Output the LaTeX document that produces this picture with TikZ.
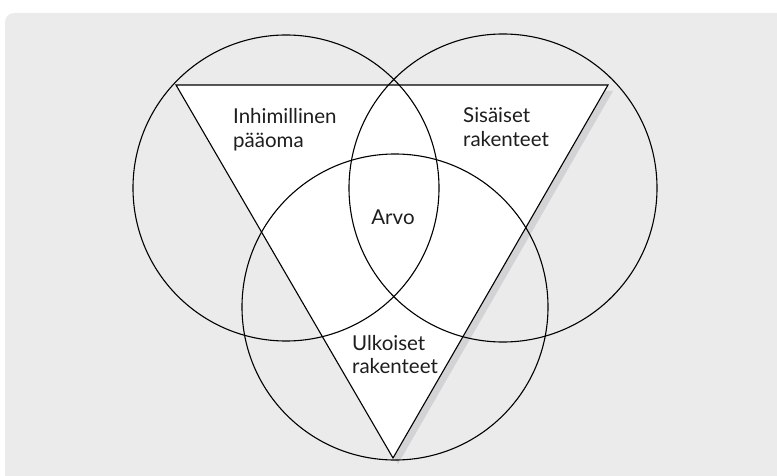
\documentclass[tikz,border=0pt]{standalone}
\usepackage{fontspec}
\setmainfont{Lato}
\definecolor{panel}{HTML}{EBEBEB}
\definecolor{shadowgrey}{HTML}{D3D3D6}
\definecolor{ink}{HTML}{1E1E1E}
\begin{document}
\begin{tikzpicture}[x=1pt,y=-1pt,
  ring/.style={draw=black,line width=1.1pt},
  edge/.style={draw=black,line width=1.1pt,line join=miter},
  lbl/.style={inner sep=0pt,font=\fontsize{20.5}{24}\selectfont,text=ink,anchor=base west}]
\useasboundingbox (0,0) rectangle (777,476);
% grey panel behind everything
\fill[panel,rounded corners=9pt] (5,13) rectangle (790,489);
% triangle corners
\coordinate (tl) at (176,85);
\coordinate (tr) at (608,85);
\coordinate (bt) at (393,458);
% drop shadow, then white triangle
\fill[fill=shadowgrey] ([shift={(5,6)}]tl) -- ([shift={(5,6)}]tr) -- ([shift={(5,6)}]bt) -- cycle;
\fill[white] (tl) -- (tr) -- (bt) -- cycle;
% three circles
\node[ring,circle,minimum size=306pt,inner sep=0pt] (cl) at (286,188) {};
\node[ring,circle,minimum size=308pt,inner sep=0pt] (cr) at (503,188) {};
\node[ring,circle,minimum size=306pt,inner sep=0pt] (cb) at (395,307) {};
\draw[edge] (tl) -- (tr) -- (bt) -- cycle;
% labels, one node per line
\node[lbl] (hum1) at (233,124) {Inhimillinen};
\node[lbl] (hum2) at (233,148) {pääoma};
\node[lbl] (int1) at (463,123) {Sisäiset};
\node[lbl] (int2) at (463,147) {rakenteet};
\node[lbl,anchor=base] (val) at (393,225) {Arvo};
\node[lbl] (ext1) at (352,350) {Ulkoiset};
\node[lbl] (ext2) at (352,373) {rakenteet};
\end{tikzpicture}
\end{document}
